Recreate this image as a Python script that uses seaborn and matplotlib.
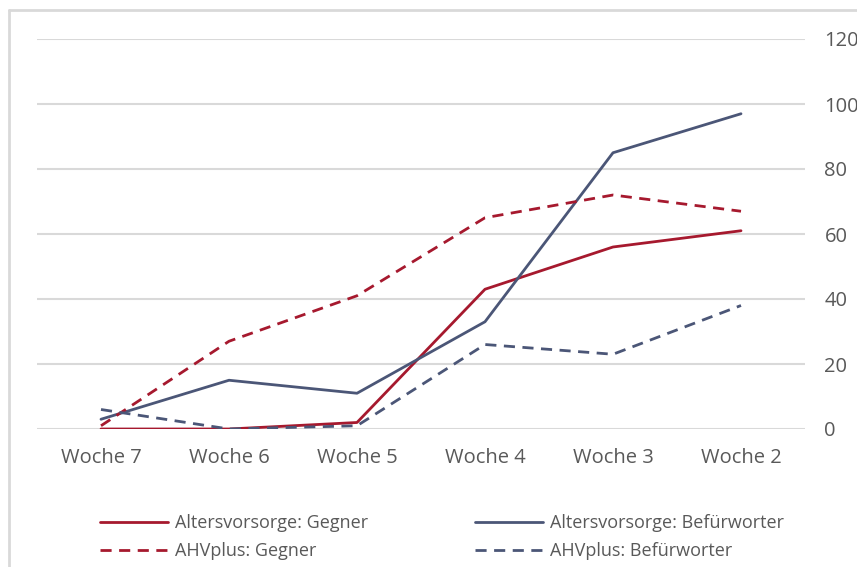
import pandas as pd
import matplotlib.pyplot as plt
import seaborn as sns
from matplotlib.lines import Line2D

weeks = ["Woche 7", "Woche 6", "Woche 5", "Woche 4", "Woche 3", "Woche 2"]
alters_gegner = [0, 0, 2, 43, 56, 61]
alters_befuerworter = [3, 15, 11, 33, 85, 97]
ahv_gegner = [1, 27, 41, 65, 72, 67]
ahv_befuerworter = [6, 0, 1, 26, 23, 38]

RED = "#A6192E"
NAVY = "#4B5677"
TEXT = "#595959"
GRID = "#D9D9D9"

sns.set_style("white")
plt.rcParams["font.family"] = ["Open Sans", "DejaVu Sans"]

fig = plt.figure(figsize=(8.57, 5.67), dpi=100)
ax = fig.add_axes([37 / 857, 1 - 429 / 567, 768 / 857, 390 / 567])

series = [
    ("Altersvorsorge: Gegner", alters_gegner, RED, "-"),
    ("Altersvorsorge: Befürworter", alters_befuerworter, NAVY, "-"),
    ("AHVplus: Gegner", ahv_gegner, RED, "--"),
    ("AHVplus: Befürworter", ahv_befuerworter, NAVY, "--"),
]

for y in range(0, 121, 20):
    ax.axhline(y, color=GRID, lw=1.5, zorder=0)

handles = {}
for name, vals, col, ls in series:
    df = pd.DataFrame({"week": weeks, "value": vals})
    sns.lineplot(data=df, x="week", y="value", ax=ax, color=col, lw=2.0,
                 sort=False, zorder=3)
    line = ax.get_lines()[-1]
    if ls == "--":
        line.set_dashes((4, 2.7))
    handles[name] = Line2D([], [], color=col, lw=2.0,
                           dashes=(4, 2.7) if ls == "--" else (None, None))

ax.set_xlim(-0.5, 5.5)
ax.set_ylim(0, 120)
ax.set_yticks(range(0, 121, 20))
ax.yaxis.tick_right()
ax.tick_params(axis="y", length=0, pad=14, labelsize=14.5, labelcolor=TEXT)
ax.tick_params(axis="x", length=0, pad=14, labelsize=14.5, labelcolor=TEXT)
ax.set_xlabel("")
ax.set_ylabel("")
for s in ax.spines.values():
    s.set_visible(False)

# frame of the chart area (only left and top visible)
fig.add_artist(Line2D([9 / 857, 9 / 857], [0, 1 - 10 / 567], color=GRID,
                      lw=2, transform=fig.transFigure))
fig.add_artist(Line2D([9 / 857, 1], [1 - 10 / 567, 1 - 10 / 567], color=GRID,
                      lw=2, transform=fig.transFigure))

leg_kw = dict(frameon=False, fontsize=13, labelcolor=TEXT, handlelength=3.75,
              handletextpad=0.4, labelspacing=0.55, borderaxespad=0,
              borderpad=0, loc="upper left")
l1 = fig.legend([handles["Altersvorsorge: Gegner"], handles["AHVplus: Gegner"]],
                ["Altersvorsorge: Gegner", "AHVplus: Gegner"],
                bbox_to_anchor=(100 / 857, 1 - 514 / 567), **leg_kw)
l2 = fig.legend([handles["Altersvorsorge: Befürworter"], handles["AHVplus: Befürworter"]],
                ["Altersvorsorge: Befürworter", "AHVplus: Befürworter"],
                bbox_to_anchor=(475 / 857, 1 - 514 / 567), **leg_kw)

fig.savefig("out.png", dpi=100)
